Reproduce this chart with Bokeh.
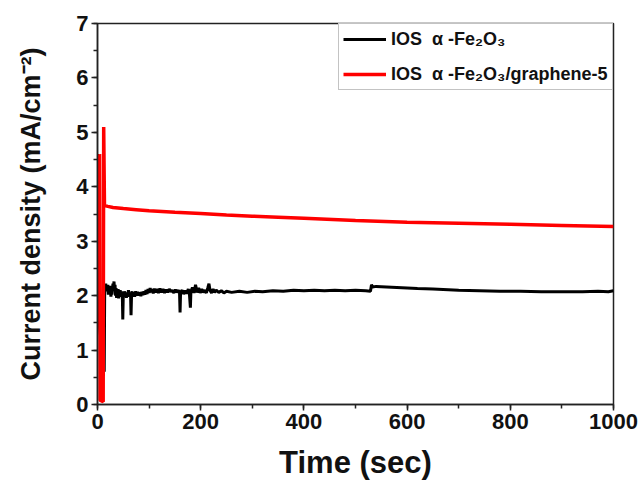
from bokeh.plotting import figure
from bokeh.models import Range1d, SingleIntervalTicker, Legend, LegendItem
from bokeh.embed import file_html
from bokeh.resources import INLINE

# ---------------- data ----------------
black_t = [0, 1, 13, 14, 15, 16, 17, 18, 19, 20, 21, 22, 23, 24, 25, 26, 27, 28, 30, 31, 32, 33, 34,
           35, 36, 37, 38, 39, 40, 41, 42, 43, 44, 45, 46, 47, 48, 49, 50, 51, 52, 54, 55, 56, 57,
           58, 60, 61, 62, 63, 64, 65, 66, 67, 68, 70, 72, 74, 76, 78, 80, 82, 84, 86, 88, 90, 92,
           94, 96, 98, 100, 102, 104, 106, 108, 110, 112, 115, 118, 121, 124, 127, 130, 133, 136,
           139, 142, 145, 148, 151, 154, 157, 159, 160, 161, 164, 167, 170, 173, 176, 178, 180, 181,
           184, 187, 190, 193, 196, 199, 202, 205, 208, 211, 214, 216, 218, 221, 224, 227, 230, 235,
           240, 245, 250, 260, 275, 290, 305, 320, 340, 360, 380, 400, 420, 440, 460, 480, 500, 520,
           529, 531, 533, 540, 560, 580, 600, 620, 650, 680, 700, 740, 780, 820, 860, 900, 940, 970,
           990, 1000]
black_v = [4.6, 1.7, 0.6, 2.2, 2.12, 2.22, 2.08, 2.18, 2.1, 2.2, 2.02, 2.15, 2.06, 2.18, 2.1, 1.98,
           2.12, 2.02, 2.22, 2.15, 2.26, 2.1, 2.2, 2.0, 2.14, 1.96, 2.1, 2.04, 2.12, 1.95, 2.08, 2.0,
           2.1, 1.98, 2.06, 2.0, 2.08, 1.56, 2.04, 1.98, 2.08, 2.0, 2.06, 1.96, 2.06, 2.0, 2.1, 1.98,
           2.06, 2.0, 2.05, 1.64, 2.02, 2.08, 1.98, 2.06, 1.98, 2.08, 2.0, 2.07, 2.0, 2.06, 1.99, 2.07,
           2.01, 2.08, 2.02, 2.1, 2.03, 2.12, 2.05, 2.14, 2.06, 2.12, 2.04, 2.13, 2.06, 2.12, 2.05,
           2.13, 2.06, 2.12, 2.05, 2.11, 2.06, 2.12, 2.07, 2.1, 2.05, 2.11, 2.06, 2.1, 2.05, 1.69,
           2.06, 2.1, 2.03, 2.09, 2.04, 2.12, 2.05, 1.78, 2.08, 2.15, 2.05, 2.2, 2.06, 2.14, 2.05,
           2.12, 2.06, 2.1, 2.05, 2.15, 2.22, 2.1, 2.05, 2.12, 2.06, 2.1, 2.06, 2.09, 2.05, 2.08,
           2.06, 2.08, 2.06, 2.08, 2.07, 2.09, 2.08, 2.1, 2.09, 2.1, 2.09, 2.1, 2.09, 2.1, 2.09,
           2.08, 2.2, 2.16, 2.17, 2.16, 2.15, 2.14, 2.13, 2.12, 2.11, 2.1, 2.09, 2.08, 2.08, 2.07,
           2.07, 2.07, 2.08, 2.07, 2.09]

red_t = [4, 5, 11, 12, 13.5, 16, 20, 30, 50, 75, 100, 150, 200, 250, 300, 350, 400, 500, 600, 700,
         800, 900, 1000]
red_v = [4.6, 0.08, 0.05, 5.1, 3.66, 3.65, 3.64, 3.62, 3.60, 3.58, 3.56, 3.53, 3.51, 3.48, 3.46,
         3.44, 3.42, 3.38, 3.35, 3.33, 3.31, 3.29, 3.27]

label_black = "IOS  \u03b1 -Fe\u2082O\u2083"
label_red = "IOS  \u03b1 -Fe\u2082O\u2083/graphene-5"
x_title = "Time (sec)"
y_title = "Current density (mA/cm\u207b\u00b2)"

FONT = "Liberation Sans"

p = figure(width=640, height=489, output_backend="svg", toolbar_location=None,
           x_range=Range1d(0, 1000), y_range=Range1d(0, 7),
           min_border_left=97, min_border_right=27, min_border_top=23, min_border_bottom=85,
           background_fill_color="white", border_fill_color="white")

p.grid.visible = False
p.outline_line_color = "#222222"
p.outline_line_width = 1.5

r_black = p.line(black_t, black_v, line_color="black", line_width=3)
r_red = p.line(red_t, red_v, line_color="#ff0000", line_width=3.5)

p.xaxis.ticker = SingleIntervalTicker(interval=200, num_minor_ticks=2)
p.yaxis.ticker = SingleIntervalTicker(interval=1, num_minor_ticks=2)

for ax in (p.xaxis[0], p.yaxis[0]):
    ax.axis_line_color = "#222222"
    ax.axis_line_width = 1.5
    ax.major_tick_line_color = "#222222"
    ax.minor_tick_line_color = "#222222"
    ax.major_tick_line_width = 1.5
    ax.minor_tick_line_width = 1.5
    ax.major_tick_out = 6
    ax.major_tick_in = 0
    ax.minor_tick_out = 4
    ax.minor_tick_in = 0
    ax.major_label_text_font = FONT
    ax.major_label_text_font_style = "bold"
    ax.major_label_text_font_size = "22px"
    ax.major_label_text_color = "#111111"
    ax.axis_label_text_font = FONT
    ax.axis_label_text_font_style = "bold"
    ax.axis_label_text_color = "#111111"
    ax.major_label_standoff = 3

p.xaxis.axis_label = x_title
p.yaxis.axis_label = y_title
p.xaxis.axis_label_text_font_size = "31px"
p.yaxis.axis_label_text_font_size = "27px"
p.xaxis.axis_label_standoff = 13
p.yaxis.axis_label_standoff = 27

legend = Legend(items=[LegendItem(label=label_black, renderers=[r_black]),
                       LegendItem(label=label_red, renderers=[r_red])],
                location="top_right", margin=0, padding=4, spacing=13,
                glyph_width=43, glyph_height=22, label_standoff=5, label_height=22,
                label_width=217,
                label_text_font=FONT, label_text_font_style="bold",
                label_text_font_size="18px", label_text_color="#111111",
                border_line_color="#888888", border_line_width=1.5,
                background_fill_color="white", background_fill_alpha=1)
p.add_layout(legend)

open("out.html", "w").write(file_html(p, INLINE))
